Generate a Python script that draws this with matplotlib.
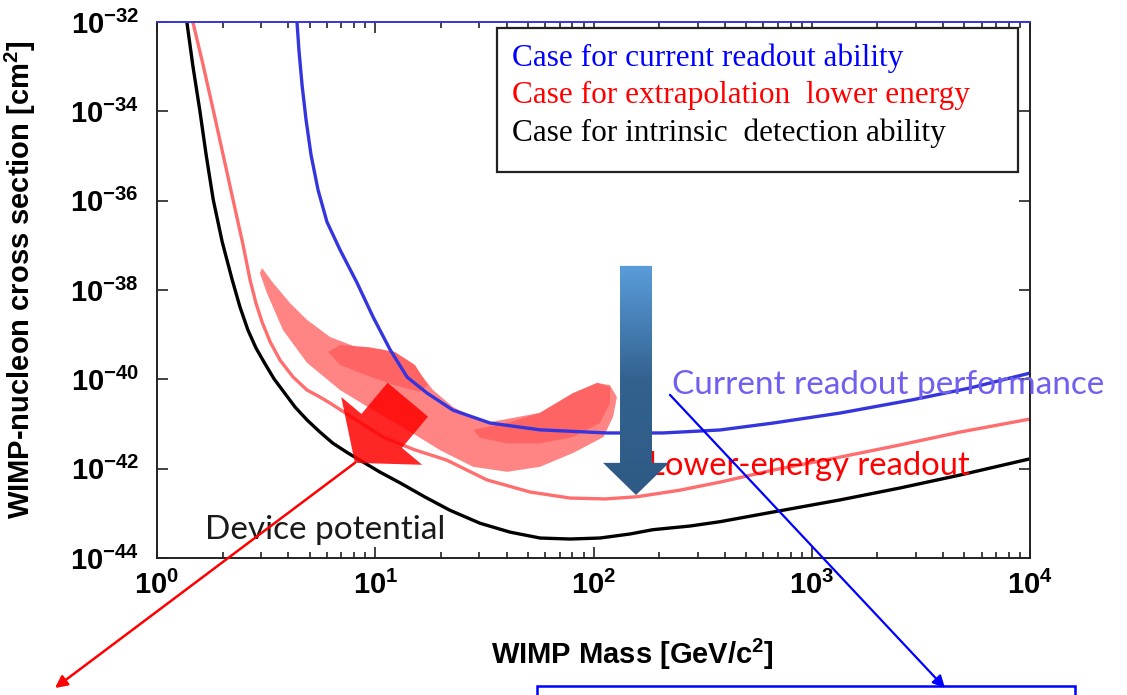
import numpy as np
import matplotlib.pyplot as plt
from matplotlib.colors import LinearSegmentedColormap
from matplotlib.patches import FancyArrowPatch, Polygon, Rectangle
from matplotlib.ticker import FixedLocator, FuncFormatter, LogLocator, NullFormatter

plt.rcParams['mathtext.fontset'] = 'custom'
for k in ('rm', 'bf', 'it', 'sf'):
    plt.rcParams['mathtext.' + k] = 'Liberation Sans:bold'

# sensitivity curves: WIMP mass [GeV/c^2] and cross section [cm^2]
black_mass = [1.37, 1.46, 1.57, 1.68, 1.81, 1.99, 2.21, 2.40, 2.61, 2.84, 3.13, 3.44, 3.78,
              4.29, 4.87, 5.58, 6.40, 7.50, 8.79, 10.5, 13.0, 16.9, 22.0, 30.2, 41.4, 56.9,
              78.0, 107, 147, 187, 277, 380, 665, 1350, 2540, 4780, 10000]
black_sigma = [1.0e-32, 1.04e-33, 1.07e-34, 1.05e-35, 1.05e-36, 1.19e-37, 1.7e-38, 4.16e-39,
               1.27e-39, 5.04e-40, 2.2e-40, 1.02e-40, 5.5e-41, 2.4e-41, 1.23e-41, 6.6e-42,
               3.7e-42, 2.24e-42, 1.41e-42, 8.4e-43, 4.8e-43, 2.32e-43, 1.17e-43, 6.0e-44,
               3.8e-44, 2.8e-44, 2.66e-44, 2.8e-44, 3.45e-44, 4.3e-44, 5.2e-44, 6.5e-44,
               1.07e-43, 2.0e-43, 3.7e-43, 7.2e-43, 1.66e-42]

red_mass = [1.46, 1.63, 1.81, 2.01, 2.23, 2.48, 2.67, 2.84, 3.03, 3.30, 3.66, 4.20, 4.87,
            5.47, 6.20, 10.85, 15.2, 21.3, 26.3, 32.5, 51.2, 78.0, 113, 158, 249, 380,
            665, 1350, 2540, 4780, 10000]
red_sigma = [1.0e-32, 1.04e-33, 1.07e-34, 1.05e-35, 1.05e-36, 1.02e-37, 1.67e-38, 5.1e-39,
             1.92e-39, 6.9e-40, 2.7e-40, 1.13e-40, 5.75e-41, 4.24e-41, 2.95e-41,
             5.1e-42, 2.63e-42, 1.55e-42, 9.3e-43, 5.6e-43, 3.0e-43, 2.2e-43, 2.1e-43,
             2.35e-43, 3.3e-43, 5.0e-43, 9.3e-43, 1.82e-42, 3.4e-42, 6.6e-42, 1.29e-41]

blue_mass = [4.38, 4.47, 4.62, 4.82, 5.08, 5.47, 6.01, 6.90, 8.25, 9.77, 11.7, 14.0, 17.3,
             22.7, 33.6, 56.9, 115, 208, 380, 665, 1350, 2910, 5310, 10000]
blue_sigma = [1.0e-32, 2.36e-33, 3.9e-34, 6.4e-35, 1.05e-35, 1.73e-36, 3.33e-37, 7.9e-38,
              1.45e-38, 2.5e-39, 4.6e-40, 1.12e-40, 4.9e-41, 2.04e-41, 1.05e-41, 7.4e-42,
              6.3e-42, 6.3e-42, 7.35e-42, 1.05e-41, 1.76e-41, 3.5e-41, 6.4e-41, 1.38e-40]

# signal-claim region (outer band and two denser cores)
band_mass = [3.03, 3.40, 4.07, 4.87, 6.20, 8.25, 10.85, 14.0, 16.0, 18.4, 22.7, 28.1, 33.6,
             56.9, 80.6, 104, 119, 128, 123, 111, 80.6, 56.9, 40.2, 28.1, 19.8, 14.0, 9.77,
             6.90, 4.87, 3.78, 3.19, 2.96]
band_sigma = [3.1e-38, 1.45e-38, 5.1e-39, 2.14e-39, 8.9e-40, 5.2e-40, 4.6e-40, 2.7e-40,
              1.38e-40, 5.75e-41, 2.4e-41, 1.45e-41, 1.1e-41, 1.78e-41, 4.9e-41, 8.3e-41,
              7.4e-41, 4.0e-41, 1.45e-41, 5.1e-42, 2.24e-42, 1.1e-42, 8.5e-43, 1.1e-42,
              2.6e-42, 7.4e-42, 2.04e-41, 5.75e-41, 2.34e-40, 1.26e-39, 8.5e-39, 2.4e-38]
coreA_mass = [6.08, 6.90, 9.46, 12.3, 15.2, 17.4, 16.0, 12.3, 8.97, 6.90]
coreA_sigma = [4.1e-40, 5.9e-40, 5.2e-40, 4.1e-40, 2.1e-40, 7.4e-41, 5.2e-41, 7.4e-41,
               1.26e-40, 2.1e-40]
coreB_mass = [28.1, 40.2, 56.9, 80.6, 104, 119, 119, 107, 80.6, 56.9, 40.2, 30.2]
coreB_sigma = [7.4e-42, 1.05e-41, 1.78e-41, 4.9e-41, 8.3e-41, 6.8e-41, 2.95e-41, 1.05e-41,
               5.1e-42, 3.7e-42, 3.7e-42, 4.9e-42]

legend_lines = ['Case for current readout ability',
                'Case for extrapolation  lower energy',
                'Case for intrinsic  detection ability']
legend_colors = ['#0000FF', '#FF0000', '#000000']

W, H = 1127, 695
fig = plt.figure(figsize=(W / 100, H / 100), dpi=100)
ax = fig.add_axes([157 / W, 1 - 558 / H, (1030 - 157) / W, (558 - 22) / H])
ax.set_xscale('log')
ax.set_yscale('log')
ax.set_xlim(1, 1e4)
ax.set_ylim(1e-44, 1e-32)

ax.fill(band_mass, band_sigma, color='#FF8585', lw=0, zorder=1)
ax.fill(coreA_mass, coreA_sigma, color='#FF6464', lw=0, zorder=1.1)
ax.fill(coreB_mass, coreB_sigma, color='#FF6464', lw=0, zorder=1.1)

ax.plot(black_mass, black_sigma, color='black', lw=2.4, zorder=2, solid_joinstyle='round')
ax.plot(red_mass, red_sigma, color='#FF6E6E', lw=2.4, zorder=2, solid_joinstyle='round')
ax.plot(blue_mass, blue_sigma, color='#3535DD', lw=2.4, zorder=2, solid_joinstyle='round')

# axes styling
for side in ('left', 'right', 'bottom', 'top'):
    ax.spines[side].set_linewidth(1.4)
    ax.spines[side].set_color('#222222')
ax.spines['top'].set_color('#3535DD')
ax.xaxis.set_major_locator(LogLocator(base=10, numticks=10))
ax.xaxis.set_minor_locator(LogLocator(base=10, subs=np.arange(2, 10), numticks=20))
ax.xaxis.set_minor_formatter(NullFormatter())
ax.yaxis.set_major_locator(FixedLocator([10.0 ** e for e in range(-44, -31, 2)]))
ax.yaxis.set_minor_locator(FixedLocator([]))
fmt = FuncFormatter(lambda v, p: r'$10^{%d}$' % round(np.log10(v)))
ax.xaxis.set_major_formatter(fmt)
ax.yaxis.set_major_formatter(fmt)
ax.tick_params(which='both', direction='in', top=True, right=True, width=1.2, color='#222222')
ax.tick_params(which='major', length=8, labelsize=21)
ax.tick_params(axis='y', which='major', pad=13)
ax.tick_params(axis='x', which='major', pad=9)
ax.tick_params(which='minor', length=4)

lab_font = dict(family='Liberation Sans', weight='bold', size=21)
ax.set_xlabel(r'WIMP Mass [GeV/c$^2$]', **lab_font)
ax.set_ylabel(r'WIMP-nucleon cross section [cm$^2$]', **lab_font)
ax.xaxis.set_label_coords(0.545, -0.147)
ax.yaxis.set_label_coords(-0.136, 0.519)

# legend box
ax.add_patch(Rectangle((0.3895, 0.720), 0.5968, 0.2693, transform=ax.transAxes,
                       facecolor='white', edgecolor='#222222', lw=1.6, zorder=4))
for i, (txt, col) in enumerate(zip(legend_lines, legend_colors)):
    ax.text(0.4066, 0.933 - i * 0.070, txt, transform=ax.transAxes, color=col,
            family='Liberation Serif', fontsize=22.5, va='center', ha='left', zorder=5)

# slide annotations
ax.text(0.590, 0.3228, 'Current readout performance', transform=ax.transAxes,
        color='#7060F0', family='Lato', fontsize=24, va='center', ha='left', zorder=3)
ax.text(0.562, 0.1716, 'Lower-energy readout', transform=ax.transAxes,
        color='#FF0000', family='Lato', fontsize=23.6, va='center', ha='left', zorder=3)
ax.text(0.055, 0.052, 'Device potential', transform=ax.transAxes,
        color='#1a1a1a', family='Lato', fontsize=24, va='center', ha='left', zorder=3)

ax.add_patch(FancyArrowPatch((14.1, 3.5e-41), (8.07, 1.35e-42),
                             arrowstyle='simple,head_length=3.0,head_width=7.6,tail_width=3.8',
                             mutation_scale=10, color='#FF0000', alpha=0.85, lw=0,
                             shrinkA=0, shrinkB=0, zorder=3))
ax.annotate('', xy=(55 / W, 1 - 688 / H), xycoords='figure fraction',
            xytext=(8.07, 1.35e-42), textcoords='data', annotation_clip=False,
            arrowprops=dict(arrowstyle='-|>', color='#FF0000', lw=1.8, mutation_scale=18,
                            shrinkA=0, shrinkB=0), zorder=6)
ax.annotate('', xy=(945 / W, 1 - 688 / H), xycoords='figure fraction',
            xytext=(224, 4.5e-41), textcoords='data', annotation_clip=False,
            arrowprops=dict(arrowstyle='-|>', color='#0000FF', lw=1.6, mutation_scale=18,
                            shrinkA=0, shrinkB=0), zorder=6)

# overlay in pixel space for the gradient arrow and the text box frame
ov = fig.add_axes([0, 0, 1, 1], zorder=5)
ov.set_xlim(0, W)
ov.set_ylim(0, H)
ov.axis('off')
cx, ytop = ax.transData.transform((156.6, 10 ** -37.46))
_, ybase = ax.transData.transform((156.6, 10 ** -41.87))
_, ytip = ax.transData.transform((156.6, 10 ** -42.59))
shaft, head = 16, 33
arrow_pts = [(cx - shaft, ytop), (cx + shaft, ytop), (cx + shaft, ybase), (cx + head, ybase),
             (cx, ytip), (cx - head, ybase), (cx - shaft, ybase)]
clip = Polygon(arrow_pts, closed=True, facecolor='none', edgecolor='none')
ov.add_patch(clip)
cmap = LinearSegmentedColormap.from_list('blue_grad', ['#5A9DDB', '#33628F', '#2E5A85'])
grad = np.linspace(0, 1, 256).reshape(-1, 1)
im = ov.imshow(grad, extent=(cx - head, cx + head, ytip, ytop), cmap=cmap,
               aspect='auto', origin='upper', interpolation='bilinear')
im.set_clip_path(clip)
ov.set_xlim(0, W)
ov.set_ylim(0, H)

ov.add_patch(Rectangle((537, -20), 1075 - 537, 20 + (H - 686), facecolor='none',
                       edgecolor='#0000FF', lw=1.8, clip_on=False))

fig.savefig('out.png', dpi=100)
